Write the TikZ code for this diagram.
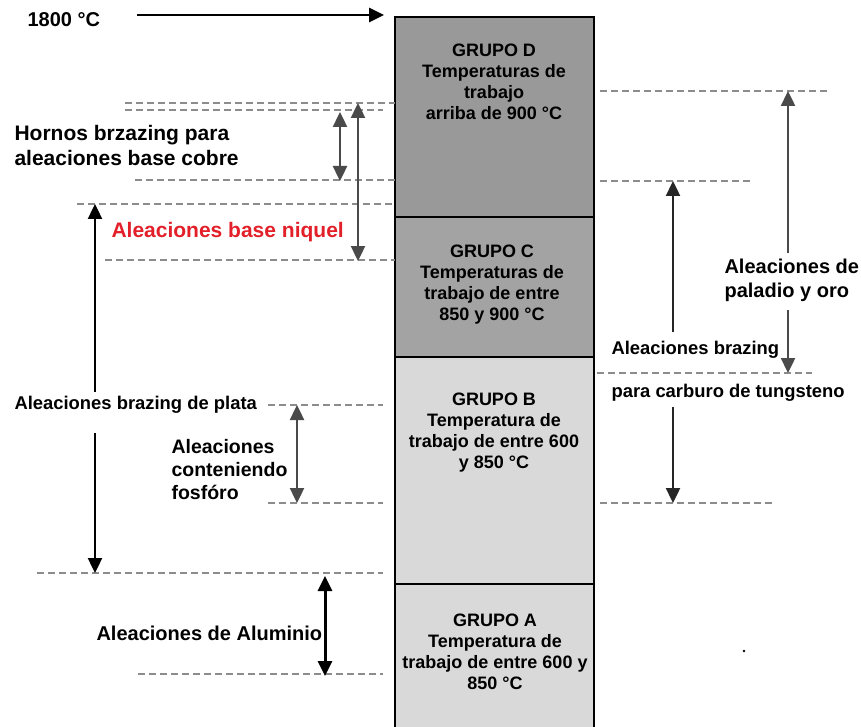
\documentclass[tikz,border=0pt]{standalone}
\usepackage{fontspec}
\setmainfont{Liberation Sans}
\usetikzlibrary{arrows.meta}

\definecolor{grisD}{HTML}{999999}
\definecolor{grisC}{HTML}{A3A3A3}
\definecolor{grisB}{HTML}{D9D9D9}
\definecolor{grisF}{HTML}{4A4A4A}
\definecolor{guiagris}{HTML}{8C8C8C}
\definecolor{rojoniquel}{HTML}{E3202A}

\begin{document}
\begin{tikzpicture}[x=1pt,y=-1pt,
    guia/.style={draw=guiagris, line width=1.8pt, dash pattern=on 7pt off 4pt},
    flecha/.style={line width=2.4pt, -{Triangle[length=15pt,width=14pt]}},
    doble/.style={line width=2.4pt, {Triangle[length=15pt,width=14pt]}-{Triangle[length=15pt,width=14pt]}},
    grupo/.style={font=\fontsize{18}{21}\selectfont\bfseries, align=center},
    rotulo/.style={anchor=west, align=left}]
  \useasboundingbox (0,0) rectangle (861,727);

  % Columna de grupos
  \draw[line width=2.2pt, fill=grisD] (395,17) rectangle (594,217);
  \draw[line width=2.2pt, fill=grisC] (395,217) rectangle (594,357);
  \draw[line width=2.2pt, fill=grisB] (395,357) rectangle (594,584);
  \draw[line width=2.2pt, fill=grisB] (395,584) rectangle (594,735);

  \node[grupo] (grupoD) at (494,82) {GRUPO D\\Temperaturas de\\trabajo\\arriba de 900 °C};
  \node[grupo] (grupoC) at (492,285) {GRUPO C\\Temperaturas de\\trabajo de entre\\850 y 900 °C};
  \node[grupo] (grupoB) at (494,433) {GRUPO B\\Temperatura de\\trabajo de entre 600\\y 850 °C};
  \node[grupo] (grupoA) at (495,652) {GRUPO A\\Temperatura de\\trabajo de entre 600 y\\850 °C};

  % Lineas de referencia
  \foreach \ya/\xa/\xb in {103/125/395, 110/125/383, 180/135/395, 204/77/395,
      260/105/395, 405/268/383, 503/268/383, 573/37/383, 674/138/383,
      91/600/830, 181/600/753, 373/597/812, 503/600/773}
    \draw[guia] (\xa,\ya) -- (\xb,\ya);

  % Textos de la izquierda
  \node[rotulo, font=\fontsize{20}{24}\selectfont\bfseries] (tmax) at (24,20) {1800 °C};
  \node[rotulo, font=\fontsize{21}{25}\selectfont\bfseries] (hornos) at (11,145) {Hornos brzazing para\\aleaciones base cobre};
  \node[rotulo, font=\fontsize{21}{25}\selectfont\bfseries, text=rojoniquel] (niquel) at (108,232) {Aleaciones base niquel};
  \node[rotulo, font=\fontsize{18.4}{22}\selectfont\bfseries] (plata) at (11,405) {Aleaciones brazing de plata};
  \node[rotulo, font=\fontsize{19.5}{23}\selectfont\bfseries] (fosforo) at (168,470) {Aleaciones\\conteniendo\\fosfóro};
  \node[rotulo, font=\fontsize{20}{24}\selectfont\bfseries] (aluminio) at (93,633) {Aleaciones de Aluminio};

  % Textos de la derecha
  \node[rotulo, font=\fontsize{20}{24}\selectfont\bfseries] (paladio) at (721,280) {Aleaciones de\\paladio y oro};
  \node[rotulo, font=\fontsize{18.4}{22}\selectfont\bfseries] (tungA) at (608,350) {Aleaciones brazing};
  \node[rotulo, font=\fontsize{18.4}{22}\selectfont\bfseries] (tungB) at (608,393) {para carburo de tungsteno};
  \node[circle, fill=black, inner sep=1pt] (punto) at (744,651) {};

  % Extremos de las flechas
  \coordinate (tmaxA) at (137,15);   \coordinate (tmaxB) at (384,15);
  \coordinate (hornosA) at (340,112); \coordinate (hornosB) at (340,181);
  \coordinate (niquelA) at (358,103); \coordinate (niquelB) at (358,261);
  \coordinate (plataA) at (95,392);  \coordinate (plataB) at (95,204);
  \coordinate (plataC) at (95,433);  \coordinate (plataD) at (95,573);
  \coordinate (fosforoA) at (297,405); \coordinate (fosforoB) at (297,503);
  \coordinate (aluminioA) at (325,576); \coordinate (aluminioB) at (325,676);
  \coordinate (tungC) at (673,332);  \coordinate (tungD) at (673,181);
  \coordinate (tungE) at (673,407);  \coordinate (tungF) at (673,503);
  \coordinate (paladioA) at (788,253); \coordinate (paladioB) at (788,91);
  \coordinate (paladioC) at (788,310); \coordinate (paladioD) at (788,373);

  % Flechas
  \draw[flecha, line width=2.8pt] (tmaxA) -- (tmaxB);
  \draw[doble, draw=grisF] (hornosA) -- (hornosB);
  \draw[doble, draw=grisF] (niquelA) -- (niquelB);
  \draw[flecha] (plataA) -- (plataB);
  \draw[flecha] (plataC) -- (plataD);
  \draw[doble, draw=grisF] (fosforoA) -- (fosforoB);
  \draw[doble, line width=3pt] (aluminioA) -- (aluminioB);
  \draw[flecha, draw=black!85] (tungC) -- (tungD);
  \draw[flecha, draw=black!85] (tungE) -- (tungF);
  \draw[flecha, draw=grisF] (paladioA) -- (paladioB);
  \draw[flecha, draw=grisF] (paladioC) -- (paladioD);
\end{tikzpicture}
\end{document}
